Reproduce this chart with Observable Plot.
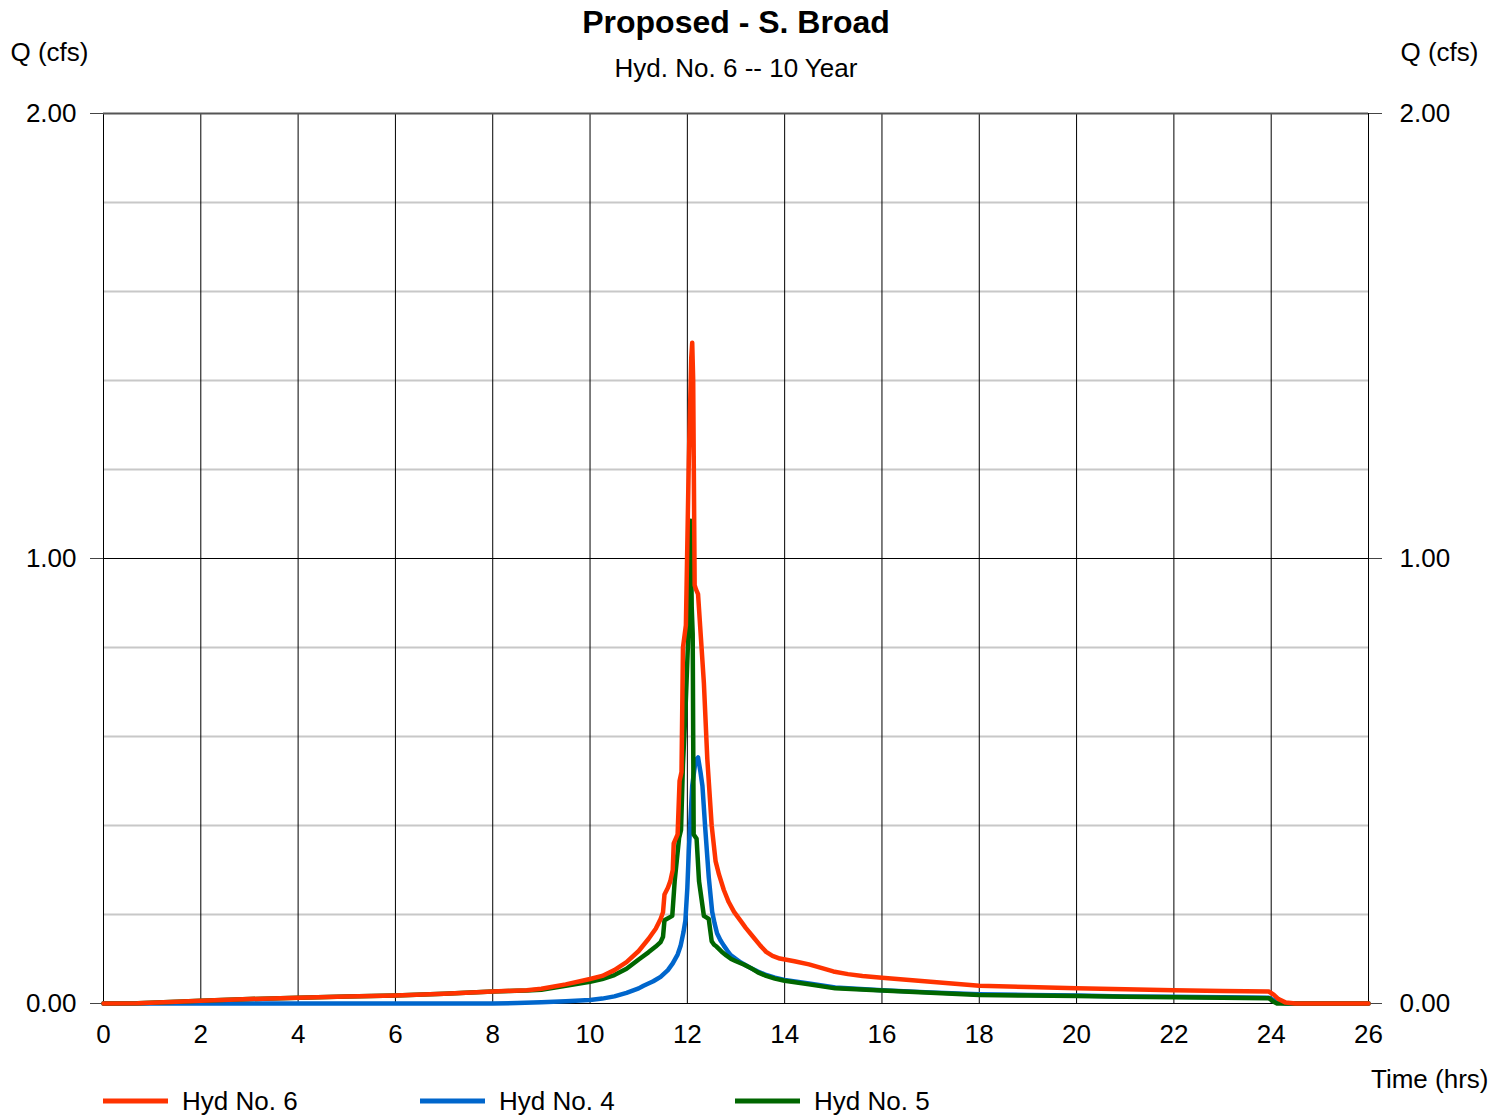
<!DOCTYPE html>
<html>
<head>
<meta charset="utf-8">
<script src="https://cdn.jsdelivr.net/npm/d3@7"></script>
<script src="https://cdn.jsdelivr.net/npm/@observablehq/plot@0.6"></script>
<style>
  html, body { margin: 0; padding: 0; background: #fff; }
  #chart { width: 1506px; height: 1116px; }
</style>
</head>
<body>
<div id="chart"></div>
<script>
// ---- Data ----
const hyd6Time = [0, 0.7, 1.5, 2, 3, 4, 5, 6, 7, 8, 8.7, 9, 9.5, 10, 10.25, 10.5, 10.75, 11.0, 11.2, 11.35, 11.45, 11.5, 11.53, 11.6, 11.65, 11.7, 11.72, 11.8, 11.84, 11.88, 11.91, 11.97, 12.03, 12.08, 12.10, 12.12, 12.15, 12.18, 12.22, 12.28, 12.34, 12.41, 12.5, 12.58, 12.65, 12.75, 12.85, 12.96, 13.1, 13.2, 13.35, 13.5, 13.62, 13.75, 13.9, 14.2, 14.5, 14.75, 15.0, 15.3, 15.6, 16, 17, 18, 19, 20, 21, 22, 23, 23.95, 24.05, 24.15, 24.3, 24.5, 26];
const hyd6Q    = [0, 0.0005, 0.004, 0.006, 0.010, 0.013, 0.016, 0.018, 0.022, 0.027, 0.030, 0.033, 0.043, 0.055, 0.062, 0.075, 0.093, 0.118, 0.145, 0.168, 0.190, 0.205, 0.245, 0.260, 0.275, 0.300, 0.360, 0.380, 0.500, 0.520, 0.800, 0.850, 1.220, 1.450, 1.485, 1.400, 0.940, 0.930, 0.920, 0.820, 0.720, 0.550, 0.400, 0.320, 0.290, 0.255, 0.228, 0.206, 0.185, 0.170, 0.150, 0.130, 0.116, 0.107, 0.101, 0.095, 0.088, 0.080, 0.072, 0.066, 0.062, 0.058, 0.049, 0.040, 0.037, 0.034, 0.032, 0.030, 0.028, 0.027, 0.020, 0.010, 0.002, 0, 0];

const hyd4Time = [0, 8, 8.5, 9, 9.5, 10, 10.25, 10.5, 10.75, 11.0, 11.1, 11.3, 11.45, 11.6, 11.7, 11.8, 11.86, 11.92, 11.96, 12.0, 12.03, 12.1, 12.17, 12.22, 12.27, 12.31, 12.37, 12.44, 12.51, 12.56, 12.61, 12.68, 12.75, 12.82, 12.89, 13.0, 13.1, 13.2, 13.3, 13.45, 13.62, 13.8, 14, 14.25, 14.5, 15.04, 16, 17, 18, 19, 20, 21, 22, 23, 23.95, 24.05, 24.15, 24.3, 26];
const hyd4Q    = [0, 0, 0.001, 0.003, 0.005, 0.008, 0.011, 0.016, 0.024, 0.034, 0.040, 0.050, 0.060, 0.075, 0.090, 0.110, 0.129, 0.160, 0.187, 0.260, 0.343, 0.489, 0.547, 0.553, 0.520, 0.489, 0.390, 0.284, 0.206, 0.180, 0.158, 0.142, 0.130, 0.119, 0.109, 0.100, 0.092, 0.086, 0.080, 0.072, 0.064, 0.058, 0.053, 0.049, 0.045, 0.036, 0.030, 0.025, 0.021, 0.019, 0.018, 0.016, 0.015, 0.014, 0.013, 0.008, 0.002, 0, 0];

const hyd5Time = [0, 0.7, 1.5, 2, 3, 4, 5, 6, 7, 8, 8.7, 9, 9.5, 10, 10.25, 10.5, 10.75, 11.0, 11.2, 11.35, 11.45, 11.5, 11.53, 11.69, 11.74, 11.83, 11.87, 11.91, 11.96, 12.02, 12.07, 12.09, 12.11, 12.13, 12.19, 12.24, 12.34, 12.44, 12.5, 12.55, 12.6, 12.7, 12.8, 12.9, 13.0, 13.17, 13.3, 13.45, 13.62, 13.8, 14, 14.5, 15.04, 16, 17, 18, 19, 20, 21, 22, 23, 23.95, 24.05, 24.12, 26];
const hyd5Q    = [0, 0.0005, 0.004, 0.006, 0.010, 0.013, 0.016, 0.018, 0.022, 0.027, 0.029, 0.031, 0.040, 0.049, 0.055, 0.064, 0.078, 0.099, 0.115, 0.128, 0.138, 0.150, 0.187, 0.197, 0.275, 0.372, 0.390, 0.537, 0.654, 0.830, 1.085, 0.890, 0.830, 0.380, 0.370, 0.275, 0.197, 0.190, 0.140, 0.132, 0.128, 0.117, 0.108, 0.100, 0.095, 0.087, 0.080, 0.070, 0.062, 0.056, 0.051, 0.043, 0.034, 0.029, 0.024, 0.019, 0.018, 0.017, 0.015, 0.014, 0.013, 0.012, 0.004, 0, 0];

const xTicks = [0, 2, 4, 6, 8, 10, 12, 14, 16, 18, 20, 22, 24, 26];
const yTicks = [0, 1, 2];
const yMinorGrid = [0.2, 0.4, 0.6, 0.8, 1.2, 1.4, 1.6, 1.8];

const seriesNames = ["Hyd No. 6", "Hyd No. 4", "Hyd No. 5"];
const seriesColors = ["#ff3300", "#0066cc", "#006600"];

const titleText = "Proposed - S. Broad";
const subtitleText = "Hyd. No. 6 -- 10 Year";
const yLabel = "Q (cfs)";
const xLabel = "Time (hrs)";

// ---- Build tables ----
const toRows = (ts, qs) => ts.map((t, i) => ({t, q: qs[i]}));
const rows6 = toRows(hyd6Time, hyd6Q);
const rows4 = toRows(hyd4Time, hyd4Q);
const rows5 = toRows(hyd5Time, hyd5Q);

const FONT = "'Liberation Sans', Arial, Helvetica, sans-serif";
const fmt = d3.format(".2f");

const chart = Plot.plot({
  width: 1506,
  height: 1116,
  marginTop: 113,
  marginBottom: 113,
  marginLeft: 103,
  marginRight: 138,
  style: {fontFamily: FONT, fontSize: "26px", color: "#000", background: "#fff"},
  x: {domain: [0, 26]},
  y: {domain: [0, 2]},
  marks: [
    Plot.ruleY(yMinorGrid, {stroke: "#c8c8c8", strokeWidth: 2}),
    Plot.ruleX(xTicks, {stroke: "#000", strokeWidth: 1}),
    Plot.ruleY([0, 1], {stroke: "#000", strokeWidth: 1}),
    Plot.ruleY([2], {stroke: "#555", strokeWidth: 2}),
    Plot.axisY({anchor: "left", ticks: yTicks, tickFormat: fmt, tickSize: 13, tickPadding: 14, fontSize: 26, label: null, stroke: "#444"}),
    Plot.axisY({anchor: "right", ticks: yTicks, tickFormat: fmt, tickSize: 13, tickPadding: 18, fontSize: 26, label: null, stroke: "#444"}),
    Plot.axisX({ticks: xTicks, tickSize: 0, tickPadding: 21, fontSize: 26, label: null}),
    Plot.line(rows4, {x: "t", y: "q", stroke: seriesColors[1], strokeWidth: 4.5, strokeLinejoin: "round"}),
    Plot.line(rows5, {x: "t", y: "q", stroke: seriesColors[2], strokeWidth: 4.5, strokeLinejoin: "round"}),
    Plot.line(rows6, {x: "t", y: "q", stroke: seriesColors[0], strokeWidth: 4.5, strokeLinejoin: "round"}),
    Plot.text([titleText], {frameAnchor: "top", dy: -91, lineAnchor: "middle", fontSize: 32, fontWeight: "bold", fill: "#000"}),
    Plot.text([subtitleText], {frameAnchor: "top", dy: -45, lineAnchor: "middle", fontSize: 26, fill: "#000"}),
    Plot.text([yLabel], {frameAnchor: "top-left", dx: -93, dy: -61, lineAnchor: "middle", textAnchor: "start", fontSize: 26, fill: "#000"}),
    Plot.text([yLabel], {frameAnchor: "top-right", dx: 110, dy: -61, lineAnchor: "middle", textAnchor: "end", fontSize: 26, fill: "#000"}),
    Plot.text([xLabel], {frameAnchor: "bottom-right", dx: 120, dy: 76, lineAnchor: "middle", textAnchor: "end", fontSize: 26, fill: "#000"})
  ]
});

// ---- Legend (below the frame) ----
const svg = d3.select(chart);
const legendX = [103, 420, 735];
const legendY = 1101;
const lg = svg.append("g").attr("font-family", FONT).attr("font-size", 26).attr("text-anchor", "start");
seriesNames.forEach((name, i) => {
  lg.append("line")
    .attr("x1", legendX[i]).attr("x2", legendX[i] + 65)
    .attr("y1", legendY).attr("y2", legendY)
    .attr("stroke", seriesColors[i]).attr("stroke-width", 5);
  lg.append("text")
    .attr("x", legendX[i] + 79).attr("y", legendY)
    .attr("dy", "0.35em").attr("fill", "#000").attr("text-anchor", "start")
    .text(name);
});

document.getElementById("chart").appendChild(chart);
</script>
</body>
</html>
